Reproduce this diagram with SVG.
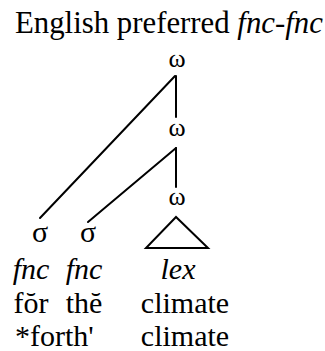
<svg xmlns="http://www.w3.org/2000/svg" width="325" height="351" viewBox="0 0 325 351" font-family="Liberation Serif">
<style>
text, tspan { font-family: 'Liberation Serif', 'Times New Roman', serif; fill: #000; }
.h { font-size: 30.8px; }
.t { font-size: 30px; }
.w { font-size: 26px; text-anchor: middle; }
.s { font-size: 30px; text-anchor: middle; }
.i { font-style: italic; }
.m { text-anchor: middle; }
.e { stroke: #000; stroke-width: 2; fill: none; stroke-linecap: round; stroke-linejoin: miter; }
</style>
<rect width="325" height="351" fill="#fff"/>
<text class="h" x="15" y="33">English preferred <tspan class="i">fnc-fnc</tspan></text>
<g id="connectors">
<line class="e" x1="176" y1="76" x2="176" y2="117"/>
<line class="e" x1="175" y1="76" x2="40" y2="218"/>
<line class="e" x1="176" y1="148" x2="176" y2="187"/>
<line class="e" x1="176" y1="148" x2="88" y2="222"/>
</g>
<g id="omega1"><text class="w" x="177" y="67">ω</text></g>
<g id="omega2"><text class="w" x="177" y="136">ω</text></g>
<g id="omega3"><text class="w" x="177" y="205">ω</text></g>
<g id="lex">
<polygon class="e" points="176,217 146,248 208,248"/>
<text class="t m i" x="178" y="279">lex</text>
<text class="t m" x="185" y="313">climate</text>
<text class="t m" x="185" y="346">climate</text>
</g>
<g id="sigma1">
<text class="s" x="40" y="242">σ</text>
<text class="t m i" x="31" y="279">fnc</text>
<text class="t m" x="31" y="313">fŏr</text>
</g>
<g id="sigma2">
<text class="s" x="88" y="242">σ</text>
<text class="t m i" x="84" y="279">fnc</text>
<text class="t m" x="84" y="313">thĕ</text>
</g>
<text class="t" x="15" y="346">*forth'</text>
</svg>
